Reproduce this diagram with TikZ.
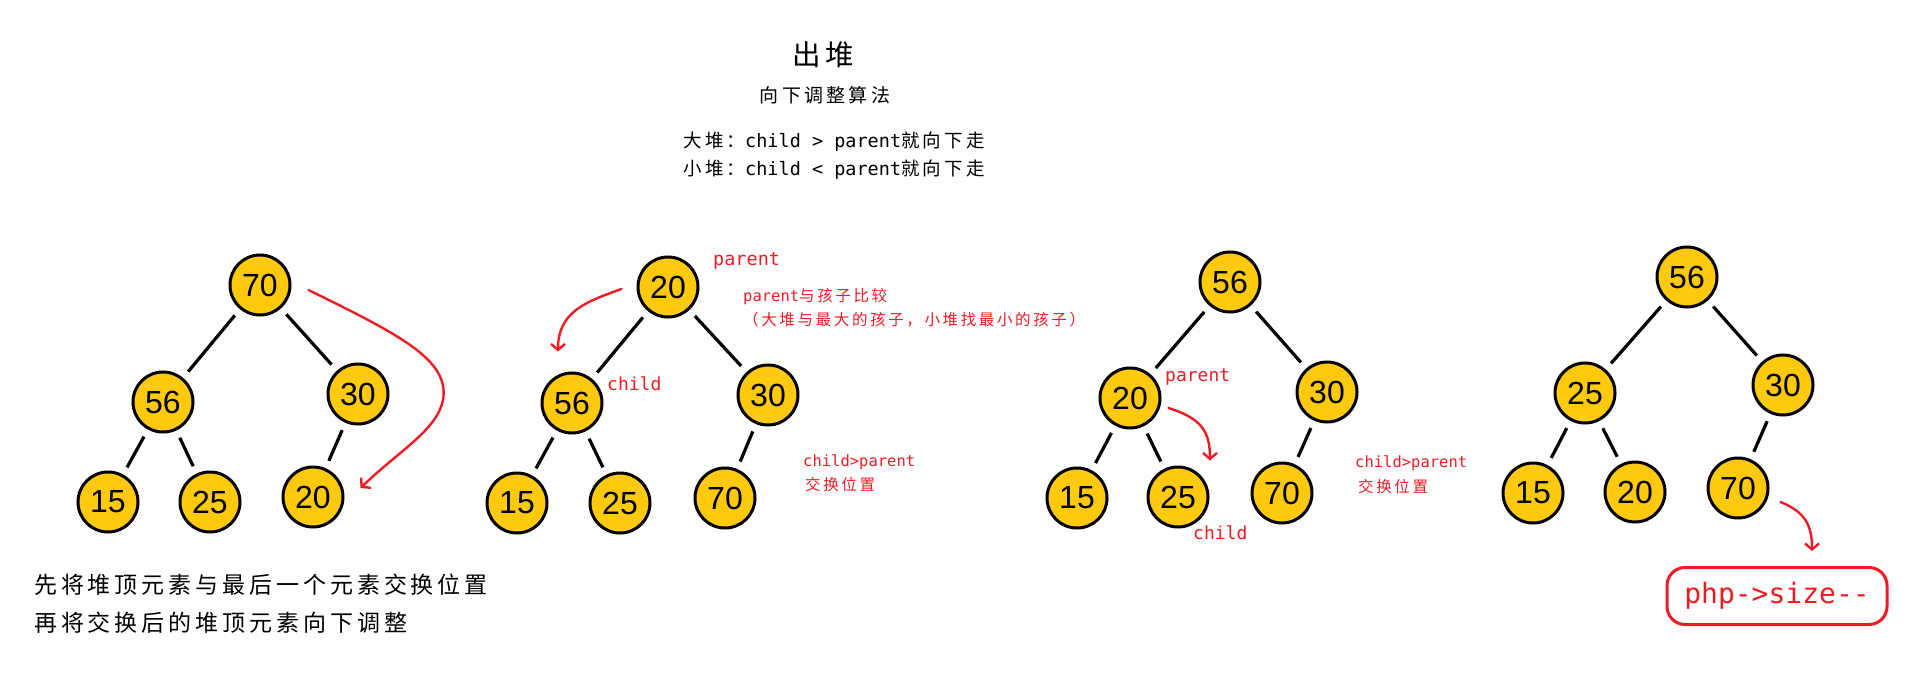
\documentclass[tikz,border=0pt]{standalone}
\usepackage{xcolor}
\usepackage{fontspec}
\setmainfont{Liberation Sans}
\setmonofont{DejaVu Sans Mono}
\newfontfamily\cjk{Noto Sans CJK SC}[LetterSpace=17]
\usepackage{tikz}
\usetikzlibrary{positioning,shapes,arrows.meta,calc}

\definecolor{heapyellow}{HTML}{FFC90E}
\definecolor{markred}{HTML}{ED1C24}

\begin{document}
\begin{tikzpicture}[x=1pt, y=-1pt,
    heapnode/.style={circle, draw=black, line width=3pt, fill=heapyellow, minimum size=60pt, inner sep=0pt, font=\fontsize{32}{32}\selectfont},
    link/.style={line width=3.2pt, shorten >=8pt, shorten <=8pt},
    swaparrow/.style={draw=markred, line width=2.4pt, line cap=round, -{Straight Barb[length=6pt, width=14pt]}},
    redlabel/.style={text=markred, anchor=west, inner sep=0pt}]
    \useasboundingbox (0,0) rectangle (1917,687);

    \node[font=\fontsize{28.5}{28.5}\selectfont\cjk] (title) at (823,55) {出堆};
    \node[font=\fontsize{19}{19}\selectfont\cjk] (subtitle) at (825,95) {向下调整算法};
    \node[font=\fontsize{18.5}{18.5}\selectfont] (rulebig) at (834,142) {{\cjk 大堆：}{\ttfamily child > parent}{\cjk 就向下走}};
    \node[font=\fontsize{18.5}{18.5}\selectfont] (rulesmall) at (834,170) {{\cjk 小堆：}{\ttfamily child < parent}{\cjk 就向下走}};

    \node[heapnode] (a70) at (260,285) {70};
    \node[heapnode] (a56) at (163,402) {56};
    \node[heapnode] (a30) at (358,394) {30};
    \node[heapnode] (a15) at (108,502) {15};
    \node[heapnode] (a25) at (210,502) {25};
    \node[heapnode] (a20) at (313,497) {20};
    \draw[link] (a70) -- (a56);
    \draw[link] (a70) -- (a30);
    \draw[link] (a56) -- (a15);
    \draw[link] (a56) -- (a25);
    \draw[link] (a30) -- (a20);
    \draw[swaparrow] ($(a70.east)+(17,5)$) .. controls (400,335) and (450,360) .. (443,400)
        .. controls (437,430) and (400,450) .. ($(a20.east)+(16,-9)$);

    \node[heapnode] (b20) at (668,287) {20};
    \node[heapnode] (b56) at (572,403) {56};
    \node[heapnode] (b30) at (768,395) {30};
    \node[heapnode] (b15) at (517,503) {15};
    \node[heapnode] (b25) at (620,503) {25};
    \node[heapnode] (b70) at (725,498) {70};
    \draw[link] (b20) -- (b56);
    \draw[link] (b20) -- (b30);
    \draw[link] (b56) -- (b15);
    \draw[link] (b56) -- (b25);
    \draw[link] (b30) -- (b70);
    \draw[swaparrow] ($(b20.west)+(-15,2)$) .. controls (585,302) and (558,312) .. ($(b56.north)+(-14,-20)$);
    \node[redlabel, font=\fontsize{18.5}{18.5}\selectfont\ttfamily] (bparent) at (713,261) {parent};
    \node[redlabel, font=\fontsize{18}{18}\selectfont\ttfamily] (bchild) at (607,384) {child};
    \node[redlabel, font=\fontsize{15.5}{15.5}\selectfont] (compare) at (743,297) {{\ttfamily parent}{\cjk 与孩子比较}};
    \node[redlabel, font=\fontsize{15.5}{15.5}\selectfont\cjk] (compare2) at (743,320) {（大堆与最大的孩子，小堆找最小的孩子）};
    \node[redlabel, font=\fontsize{15.5}{15.5}\selectfont\ttfamily] (bswap) at (803,462) {child>parent};
    \node[redlabel, font=\fontsize{15.5}{15.5}\selectfont\cjk] (bswap2) at (805,485) {交换位置};

    \node[heapnode] (c56) at (1230,282) {56};
    \node[heapnode] (c20) at (1130,398) {20};
    \node[heapnode] (c30) at (1327,392) {30};
    \node[heapnode] (c15) at (1077,498) {15};
    \node[heapnode] (c25) at (1178,497) {25};
    \node[heapnode] (c70) at (1282,493) {70};
    \draw[link] (c56) -- (c20);
    \draw[link] (c56) -- (c30);
    \draw[link] (c20) -- (c15);
    \draw[link] (c20) -- (c25);
    \draw[link] (c30) -- (c70);
    \draw[swaparrow] ($(c20.east)+(7,10)$) .. controls (1200,418) and (1210,430) .. ($(c25.north)+(32,-5)$);
    \node[redlabel, font=\fontsize{18}{18}\selectfont\ttfamily] (cparent) at (1165,377) {parent};
    \node[redlabel, font=\fontsize{18}{18}\selectfont\ttfamily] (cchild) at (1193,533) {child};
    \node[redlabel, font=\fontsize{15.5}{15.5}\selectfont\ttfamily] (cswap) at (1355,463) {child>parent};
    \node[redlabel, font=\fontsize{15.5}{15.5}\selectfont\cjk] (cswap2) at (1358,487) {交换位置};

    \node[heapnode] (d56) at (1687,277) {56};
    \node[heapnode] (d25) at (1585,393) {25};
    \node[heapnode] (d30) at (1783,385) {30};
    \node[heapnode] (d15) at (1533,493) {15};
    \node[heapnode] (d20) at (1635,492) {20};
    \node[heapnode] (d70) at (1738,488) {70};
    \draw[link] (d56) -- (d25);
    \draw[link] (d56) -- (d30);
    \draw[link] (d25) -- (d15);
    \draw[link] (d25) -- (d20);
    \draw[link] (d30) -- (d70);
    \node[draw=markred, line width=3pt, rounded corners=18pt, minimum width=220pt, minimum height=57pt, text=markred, font=\fontsize{28}{28}\selectfont\ttfamily] (size) at (1777,596) {php{-}>size{-}{-}};
    \draw[swaparrow] ($(d70.east)+(11,14)$) .. controls (1805,512) and (1812,525) .. ($(size.north)+(35,-15)$);

    \node[anchor=west, inner sep=0pt, font=\fontsize{23}{23}\selectfont\cjk] (step1) at (34,585) {先将堆顶元素与最后一个元素交换位置};
    \node[anchor=west, inner sep=0pt, font=\fontsize{23}{23}\selectfont\cjk] (step2) at (34,623) {再将交换后的堆顶元素向下调整};
\end{tikzpicture}
\end{document}
